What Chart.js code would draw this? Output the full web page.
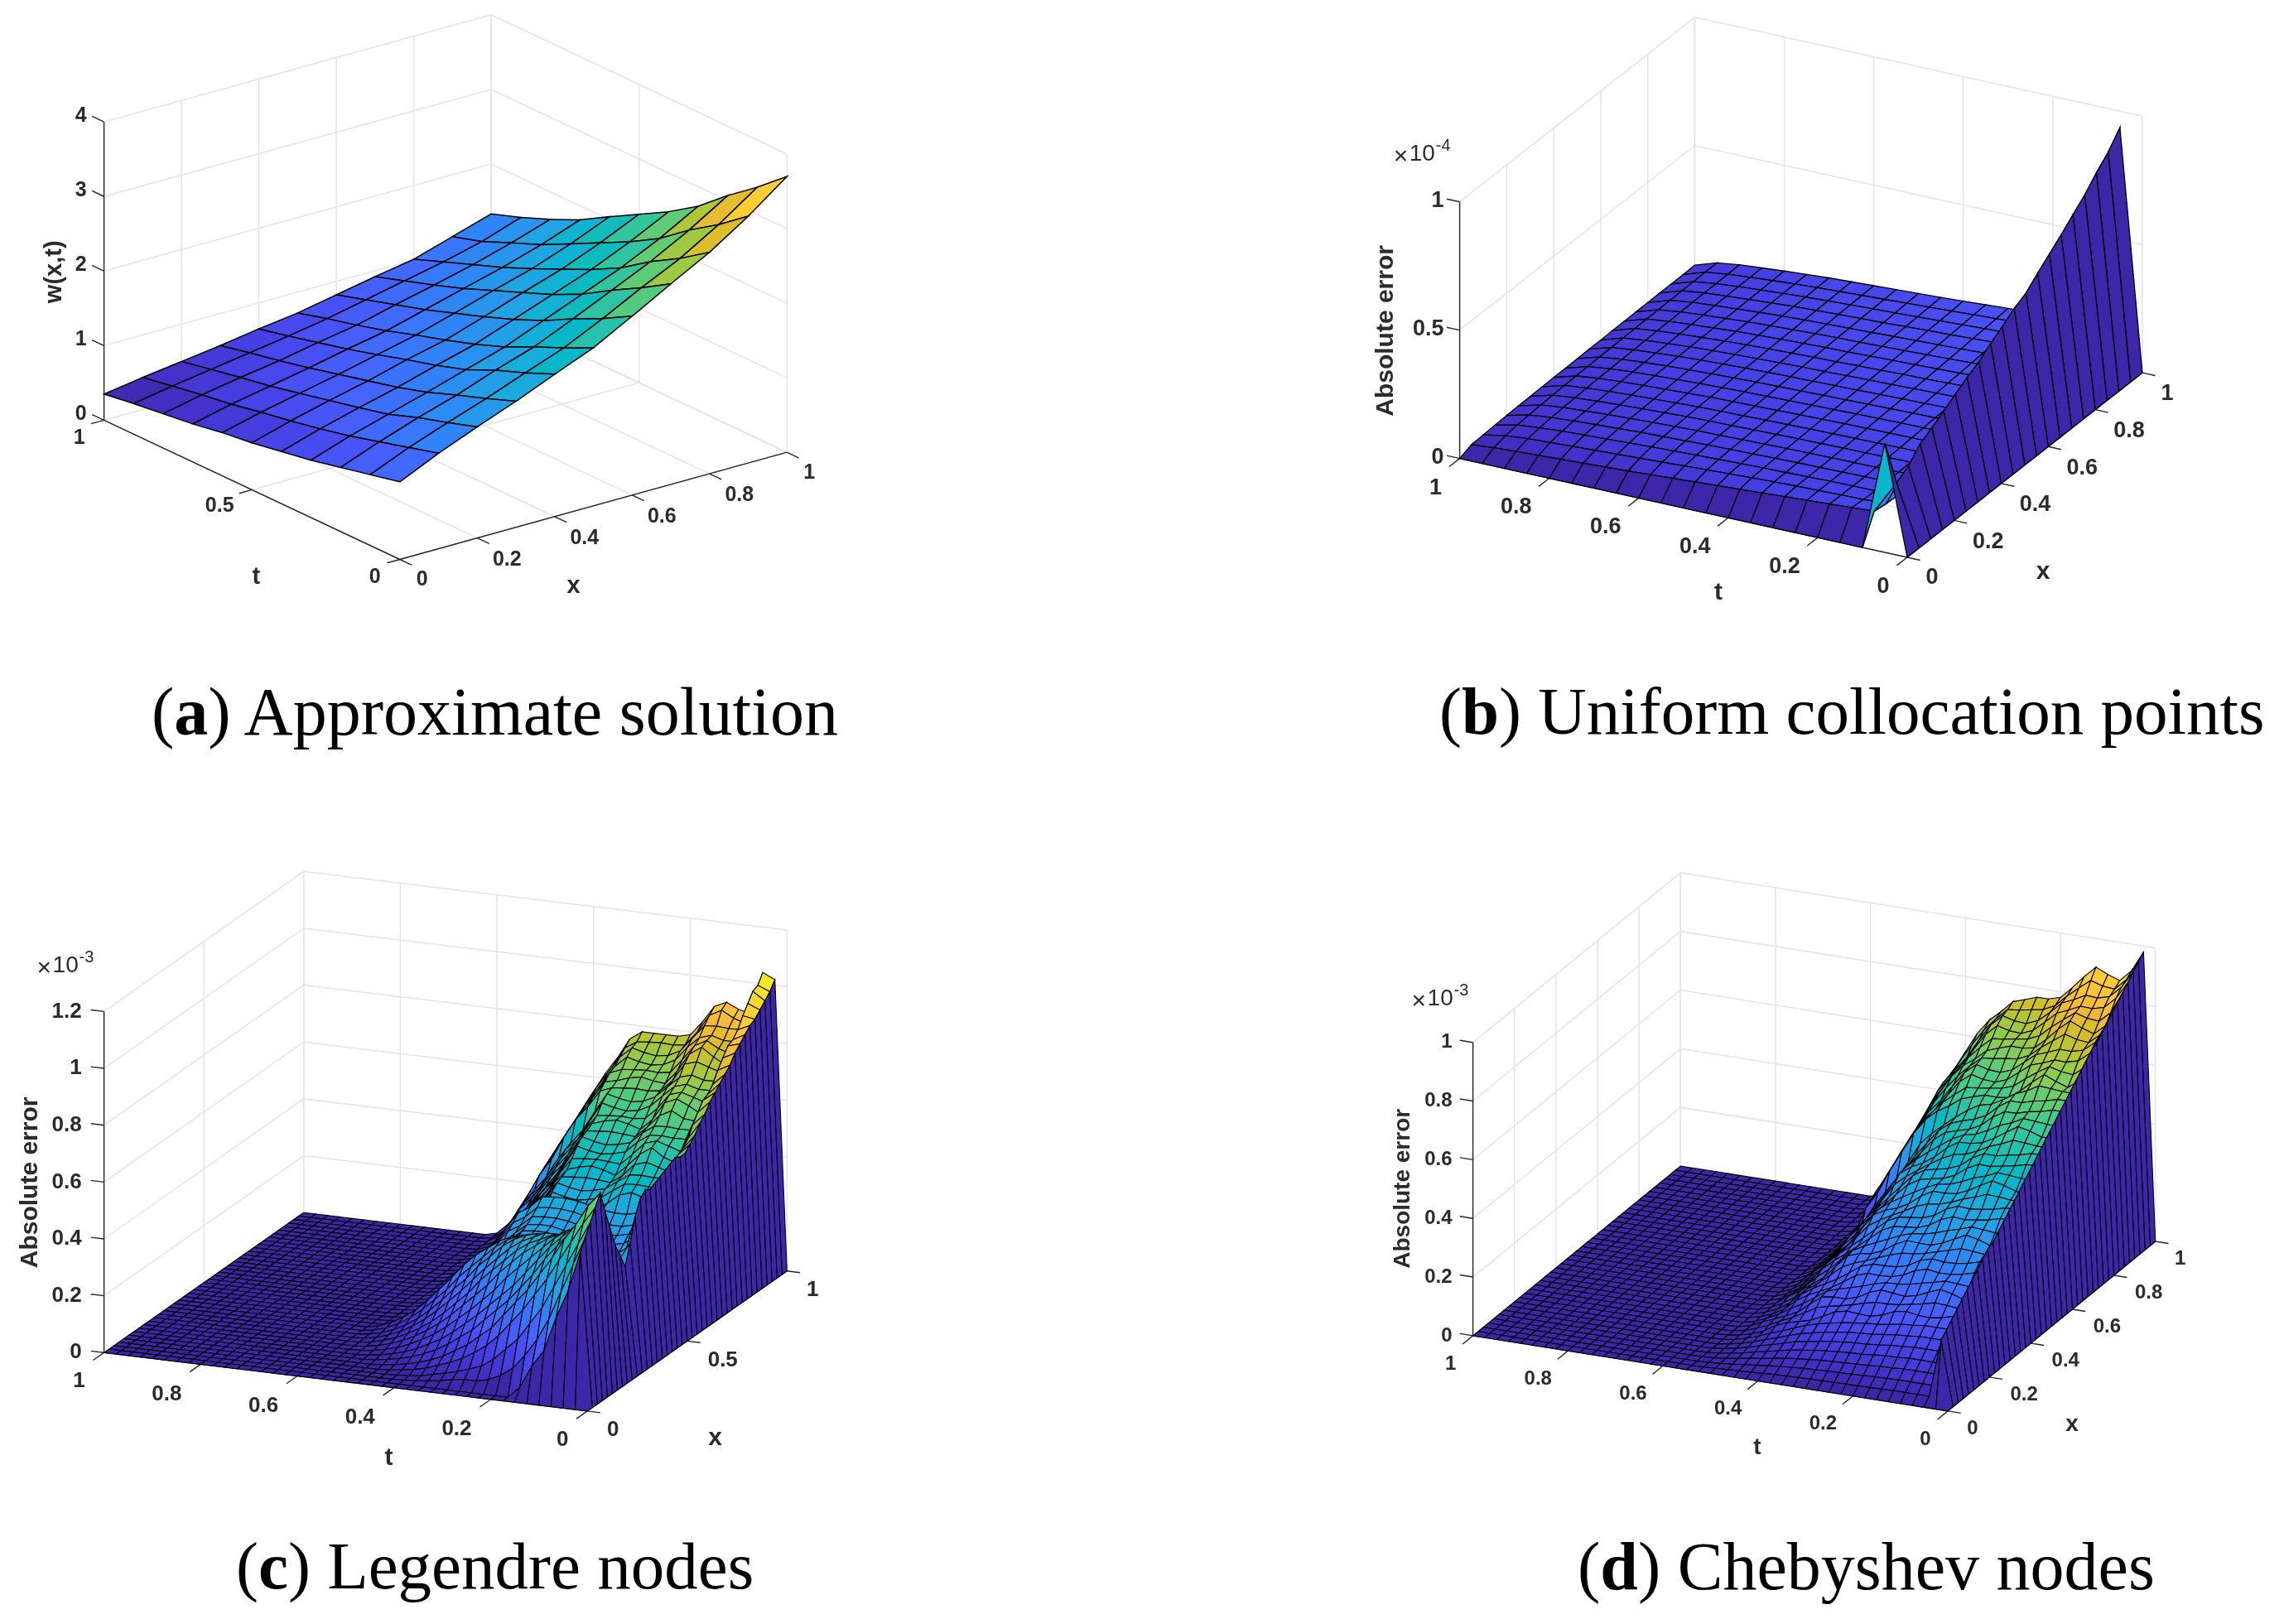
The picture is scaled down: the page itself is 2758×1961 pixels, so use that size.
<!DOCTYPE html>
<html>
<head>
<meta charset="utf-8">
<style>
  html, body { margin: 0; padding: 0; background: #fff; }
  body { position: relative; width: 2758px; height: 1961px; overflow: hidden; }
  canvas { position: absolute; }
  .cap { position: absolute; font: 82px/1 "Liberation Serif", serif; color: #000; white-space: nowrap; }
</style>
<script src="https://cdn.jsdelivr.net/npm/chart.js@4"></script>
</head>
<body>
<canvas id="chartA" width="1100" height="790" style="left:0;top:0"></canvas>
<canvas id="chartB" width="1118" height="790" style="left:1640px;top:0"></canvas>
<canvas id="chartC" width="1100" height="790" style="left:0;top:1020px"></canvas>
<canvas id="chartD" width="1108" height="790" style="left:1650px;top:1020px"></canvas>
<div class="cap" style="left:183px;top:819px">(<b>a</b>) Approximate solution</div>
<div class="cap" style="left:1738px;top:819px;font-size:81px">(<b>b</b>) Uniform collocation points</div>
<div class="cap" style="left:285px;top:1851px;font-size:81px">(<b>c</b>) Legendre nodes</div>
<div class="cap" style="left:1905px;top:1851px">(<b>d</b>) Chebyshev nodes</div>
<script>
// tick values of the four panels
const xTicksA = [0, 0.2, 0.4, 0.6, 0.8, 1];
const tTicksA = [0, 0.5, 1];
const zTicksA = [0, 1, 2, 3, 4];
const xTicksB = [0, 0.2, 0.4, 0.6, 0.8, 1];
const tTicksB = [0, 0.2, 0.4, 0.6, 0.8, 1];
const zTicksB = [0, 0.5, 1];
const xTicksC = [0, 0.5, 1];
const tTicksC = [0, 0.2, 0.4, 0.6, 0.8, 1];
const zTicksC = [0, 0.2, 0.4, 0.6, 0.8, 1, 1.2];
const xTicksD = [0, 0.2, 0.4, 0.6, 0.8, 1];
const tTicksD = [0, 0.2, 0.4, 0.6, 0.8, 1];
const zTicksD = [0, 0.2, 0.4, 0.6, 0.8, 1];

// surfaces: one list per x, entries run along t from t=0.
// lists that stop early are zero for the rest of t
const surfaceA = [
  [1.04,.95,.86,.77,.70,.63,.58,.51,.46,.41,.35],
  [1.28,1.17,1.06,.95,.86,.78,.71,.63,.57,.50,.43],
  [1.49,1.36,1.24,1.10,1.00,.91,.82,.73,.66,.58,.50],
  [1.69,1.54,1.40,1.25,1.13,1.03,.93,.83,.74,.66,.57],
  [1.91,1.74,1.59,1.41,1.28,1.17,1.05,.94,.84,.74,.65],
  [2.12,1.93,1.76,1.57,1.42,1.29,1.17,1.04,.93,.83,.72],
  [2.40,2.18,1.99,1.78,1.61,1.46,1.32,1.18,1.06,.94,.82],
  [2.69,2.45,2.23,1.99,1.80,1.64,1.48,1.32,1.18,1.05,.92],
  [2.97,2.70,2.47,2.20,1.99,1.81,1.63,1.46,1.31,1.16,1.01],
  [3.31,3.01,2.75,2.45,2.22,2.02,1.82,1.62,1.46,1.29,1.17],
  [3.70,3.37,3.07,2.74,2.48,2.26,2.04,1.81,1.63,1.47,1.33]
];
// thousandths of the 1e-4 axis unit
const surfaceB = [
  [0,426],
  [0,235,105,100,95,90,85,80,75,70,65,60,55,50,46,42,38,34,30,25,18],
  [0,264,98,96,94,92,90,87,84,80,76,72,68,64,60,56,52,48,44,36,20],
  [0,314,95,94,93,92,90,88,86,84,81,78,75,72,68,64,60,56,50,42,22],
  [0,341,95,94,93,92,91,90,88,86,84,82,79,76,73,69,65,60,54,45,24],
  [0,370,96,95,94,93,92,91,90,88,86,84,82,79,76,72,68,63,57,48,25],
  [0,400,98,97,96,95,94,93,92,90,88,86,84,82,78,74,70,65,59,50,26],
  [0,430,100,99,98,97,96,95,94,92,90,88,86,84,80,76,72,67,61,52,27],
  [0,454,103,102,101,100,99,98,96,94,92,90,88,86,82,78,74,69,63,53,28],
  [0,490,106,105,104,103,102,100,98,96,94,92,90,87,84,80,76,71,64,54,28],
  [0,520,110,109,107,106,104,102,100,98,96,94,92,89,86,82,78,72,65,55,29],
  [0,554,114,112,110,108,106,104,102,100,98,96,94,91,88,84,79,73,66,56,30],
  [0,578,118,116,114,112,110,107,105,103,100,98,95,92,89,85,80,74,67,57,30],
  [0,620,122,120,118,115,112,110,107,105,102,100,97,94,91,86,81,75,68,58,31],
  [0,659,126,124,121,118,115,112,110,107,104,102,99,96,92,88,82,76,69,59,31],
  [0,698,130,128,125,122,118,115,112,109,106,104,101,97,93,89,83,77,70,59,32],
  [0,740,135,132,129,125,121,118,115,112,108,105,102,99,95,90,84,78,71,60,32],
  [0,781,140,137,133,129,125,121,118,114,110,107,104,100,96,91,85,79,72,61,33],
  [0,832,145,142,137,132,128,124,120,116,112,109,105,101,97,92,86,80,72,61,33],
  [0,876,150,146,141,136,131,127,122,118,114,110,106,102,98,93,87,80,73,62,33],
  [0,936,155,150,145,140,135,130,125,120,116,112,108,104,100,94,88,81,74,62,34]
];
// hundredths of the 1e-3 axis unit
const surfaceC = [
  [0],
  [0,54,40,30,18,12,4],
  [0,58,48,38,28,20,14,9,6,4,3,3,2.5,1.5,1,.5,.2],
  [0,62,54,46,38,30,24,18,14,10,7,5.5,4,3,2,1,.5,.2],
  [0,66,60,53,46,39,33,27,22,17,13,10,7.5,5.5,4,2.5,1.5,.8,.3],
  [0,70,65,58,52,45,39,33,28,23,18,14.5,11,8.5,6,4.2,2.8,1.7,.9,.4],
  [0,62,62,58,53,48,43,37,32,27,23,19,15,12,9,6.5,4.6,3,1.9,1,.4],
  [0,55,58,57,54,50,46,41,36,31,27,23,19,15.5,12,9,6.8,4.6,3,1.8,.9,.3],
  [0,48,52,53,53,51,48,44,40,36,32,27,23,19,15.5,12,9,6.6,4.5,2.8,1.6,.7,.2],
  [0,43,46,49,50,50,48,46,43,40,36,32,27,23,19,15,11.5,8.6,6,4,2.4,1.2,.4],
  [0,38,40,43,45,46,47,46,44,42,39,35,31,27,22,18,14,10.5,7.6,5.2,3.2,1.8,.7,.1],
  [0,45,38,38,40,42,44,45,45,43,41,38,34,30,25.5,21,17,13,9.5,6.6,4.2,2.4,1.1,.3],
  [0,53,37,35,36,38,40,42,43,43,42,40,37,33,29,24,20,15.5,11.5,8,5.2,3.1,1.5,.5],
  [0,58,38,33,33,34,36,38,40,41,41,40,38,35,31,27,23,18,14,10,6.6,4,2,.7],
  [0,60,40,33,31,31,32,34,36,38,39,39,38,36,33,30,26,21,16.5,12,8,5,2.6,1],
  [0,59,40,35,33,32,33,34,35,36.5,37,37,36.5,32.7,29,25,18.5,12.5,8,4.4,2.4,1.4,.7,.2,.1],
  [0,60,42,37,34,33,33.5,35,36,37,38,38,37.5,33.6,30,26,19.5,13,8.5,4.6,2.5,1.5,.8,.3,.1],
  [0,61,44,39,36,35,35,36,37,38,39,39,38.5,35,31,27,20.5,13.5,9,4.8,2.6,1.6,.8,.3,.1],
  [0,62,46,41,38,37,37,38,39,40,40.5,40.5,40,36.3,33.9,29,22,14.5,9.5,5,2.8,1.7,.9,.3,.1],
  [0,63,48,43,40,39,39,40,41,42,42.5,42.5,42,38.2,35.6,30.3,23.3,15.3,10,5,3,1.8,1,.3,.1],
  [0,64,50,46,43,42,42,42.5,43.5,44.5,45,45,44.5,40.5,37.8,32,25,17,11,5,2.8,1.8,1,.3,.1],
  [0,63,54.7,46.7,47.1,48.4,47.1,43.7,40.7,41.1,41.4,41.1,40.7,36,32,28,23,18.3,12.3,5,3,1.9,1,.3,.1],
  [0,63,57.8,49.8,49.7,50,49.7,46.8,43.8,42.7,42,42.7,43.8,37.7,32.6,28.9,24,19.5,14,6,3.2,2,1.1,.4,.1],
  [0,65,60.8,51.8,51.7,52,51.7,48.8,45.8,44.7,44,44.7,45.8,39.6,34.3,30.6,25.6,20.3,15.4,7.4,3.6,2.2,1.2,.4,.1],
  [0,67,61.7,52.7,54.1,55.4,54.1,49.7,46.7,47.1,47.4,47.1,46.7,41.4,36,31.5,26.4,21,17,9,4,2.4,1.3,.4,.1],
  [0,70,64,55,56.4,59.3,56.4,52,48,49.4,50.3,49.4,48,43.2,37.8,33.2,27.2,21.8,18.4,10.4,4.5,2.6,1.4,.5,.1],
  [0,72,67.7,57.7,59.1,60.4,59.1,54.7,50.7,51.1,51.4,51.1,50.7,45.1,38.7,34,28.8,23.3,19.4,12,5,3,1.6,.5,.1],
  [0,75,70.8,60.8,60.7,61,60.7,57.8,53.8,52.7,52,52.7,53.8,46.9,40.5,35.7,29.6,24,20.2,13.4,6.4,3.4,1.8,.6,.1],
  [0,77,73.8,62.8,62.7,63,62.7,59.8,55.8,54.7,54,54.7,55.8,48.8,42.2,36.6,31.2,24.8,20.9,15,8,4,2,.7,.1],
  [0,79,74.7,64.7,65.1,67.4,65.1,60.7,56.7,57.1,57.4,57.1,56.7,50,44,39,33,27,23,16.4,9.4,4.5,2.2,.8,.1],
  [0,81,77,66,68.4,70.3,68.4,62,58,59.4,60.3,59.4,58,52,46,41,35,29,25,18,11,5,2.5,.9,.1],
  [0,83,80.7,68.7,70.1,71.4,70.1,64.7,60.7,60.1,60.4,60.1,59.7,54,48,43,37,30,26,19.4,12.4,6,3,1,.2],
  [0,86,83.8,71.8,71.7,73,71.7,67.8,63.8,61.7,61,61.7,62.8,56,49,45,39,31,27,21,14,7,3.5,1.2,.2],
  [0,88,86.8,73.8,73.7,75,73.7,69.8,65.8,63.7,63,63.7,64.8,58,51,46,40,33,28,22,15.4,8,4,1.4,.2],
  [0,90,87.7,75.7,77.1,78.4,77.1,70.7,66.7,66.1,66.4,66.1,65.7,64,58,53,46,38,32,24,17,9.5,4.5,1.5,.2],
  [0,92,90,77,79.4,82.3,79.4,73,68,68.4,69.3,68.4,67,66,60,54,47.5,39.5,33.5,25.5,18.5,10.5,5,1.6,.2],
  [0,93,93.7,79.7,81.1,83.4,81.1,75.7,70.7,70.1,70.4,70.1,69.7,68,61,56,49,41,35,27,20,12,5.5,1.8,.2],
  [0,95,96.8,82.8,82.7,84,82.7,78.8,73.8,71.7,71,71.7,72.8,69,63,57,50.5,42.5,36.5,28.5,21.5,13.5,6.5,2,.3],
  [0,97,99.8,85.8,85.7,86,85.7,80.8,75.8,73.7,73,73.7,74.8,71,65,59,52,44,38,30,23,15,8,3,.4],
  [0,99,100.7,86.7,88.1,90.4,88.1,81.7,76.7,76.1,76.4,76.1,75.7,73,66,60,53.5,45.5,39.5,31.5,24.5,16.5,9.5,3.5,.5],
  [0,102,104,89,90,92,90,84,79,78,78,78,78,75,68,62,55,47,41,33,26,18,11,5,1]
];
const surfaceD = [
  [0],
  [0,22,2.3,2.3,2.3,2.3,2.2,2.1,2,2,1.9,1.8,1.8,1.6,1.5,1.4,1.1,.9,.7,.5,.3,.1],
  [0,24,4.5,4.5,4.5,4.5,4.4,4.3,4.1,3.9,3.8,3.7,3.5,3.3,3,2.7,2.3,1.8,1.4,.9,.5,.2],
  [0,26,6.8,6.8,6.8,6.8,6.5,6.4,6.1,5.9,5.7,5.5,5.3,4.9,4.5,4.1,3.4,2.7,2.1,1.4,.8,.3,.1],
  [0,28,9,9,9,9,8.7,8.6,8.2,7.8,7.7,7.4,7,6.6,6,5.4,4.5,3.6,2.8,1.8,1.1,.5,.1],
  [0,30,11.3,11.3,11.3,11.3,10.9,10.7,10.2,9.8,9.6,9.2,8.8,8.2,7.5,6.8,5.6,4.5,3.5,2.3,1.4,.6,.1],
  [0,32,13.5,13.5,13.5,13.5,13.1,12.8,12.3,11.7,11.5,11.1,10.5,9.9,9,8.1,6.8,5.4,4.2,2.7,1.6,.7,.1],
  [0,34,15.8,15.8,15.8,15.8,15.3,15,14.3,13.7,13.4,12.9,12.3,11.5,10.6,9.5,7.9,6.3,4.9,3.2,1.9,.8,.2],
  [0,36,18.8,18.8,17.7,17,17.2,17.9,17.2,15.4,14.3,14.5,14.8,13.9,11.8,9.8,8.7,7.7,6,3.5,1.9,.9,.2],
  [0,38,20,20,20.4,20.7,19.7,18.9,18.1,17.7,17.6,16.7,15.5,14.5,13.7,12.6,10.2,8,6.2,4.1,2.4,1,.2],
  [0,40,21.5,21.5,22.9,23.8,22.2,20.4,19.5,20,20.4,18.9,16.6,15.4,15.5,14.8,11.7,8.4,6.5,4.7,3.1,1.1,.2],
  [0,41,24.5,24.5,24.9,25.2,24.1,23.2,22.2,21.6,21.4,20.4,19,17.8,16.7,15.3,12.5,9.8,7.6,5,3,1.2,.2],
  [0,43,27.8,27.8,26.7,26,25.9,26.5,25.4,23.2,22,21.8,21.9,20.5,17.8,15.2,13.2,11.3,8.8,5.3,2.9,1.4,.3],
  [0,45,30.1,30.1,29,28.3,28.1,28.6,27.4,25.1,23.9,23.7,23.6,22.2,19.3,16.6,14.3,12.2,9.5,5.8,3.2,1.5,.3],
  [0,47,31.2,31.2,31.6,31.9,30.7,29.6,28.4,27.5,27.2,25.9,24.3,22.7,21.2,19.3,15.9,12.5,9.7,6.3,3.8,1.6,.3],
  [0,49,32.8,32.8,34.2,35.1,33.1,31.1,29.7,29.8,30,28.1,25.3,23.6,23,21.6,17.3,12.9,10,7,4.5,1.7,.3],
  [0,51,35.7,35.7,36.1,36.4,35,33.9,32.5,31.4,31,29.6,27.8,26,24.2,22,18.1,14.3,11.1,7.2,4.3,1.8,.4],
  [0,53,39.1,39.1,38,37.3,36.8,37.1,35.6,33,31.5,31.1,30.6,28.7,25.3,22,18.8,15.8,12.3,7.6,4.3,1.9,.4],
  [0,55,41.3,41.3,40.2,39.5,39,39.3,37.7,34.9,33.4,32.9,32.4,30.4,26.8,23.3,20,16.7,13,8,4.6,2,.4],
  [0,57,42.5,42.5,42.9,43.2,41.6,40.3,38.6,37.3,36.7,35.2,33,30.9,28.7,26.1,21.5,17,13.2,8.6,5.1,2.1,.4],
  [0,59,44,44,45.4,46.3,44.1,41.8,40,39.6,39.6,37.3,34.1,31.9,30.6,28.3,22.9,17.4,13.5,9.2,5.8,2.3,.5],
  [0,61,47,47,47.4,47.7,45.9,44.6,42.7,41.2,40.6,38.8,36.6,34.2,31.8,28.8,23.7,18.8,14.5,9.5,5.7,2.4,.5],
  [0,63,50.3,50.3,49.2,48.5,47.7,47.8,45.8,42.8,41.1,40.3,39.4,36.9,32.9,28.7,24.5,20.3,15.7,9.8,5.6,2.5,.5],
  [0,65,52.6,52.6,51.5,50.8,49.9,50,47.9,44.7,43,42.1,41.2,38.6,34.4,30.1,25.6,21.2,16.4,10.3,5.9,2.6,.5],
  [0,67,53.7,53.7,54.1,54.4,52.5,51,48.8,47.1,46.3,44.4,41.8,39.1,36.3,32.8,27.1,21.5,16.6,10.8,6.5,2.7,.5],
  [0,69,55.3,55.3,56.7,57.6,55,52.4,50.2,49.3,49.1,46.5,42.9,40.1,38.1,35.1,28.5,21.9,16.9,11.5,7.2,2.8,.6],
  [0,71,58.2,58.2,58.6,58.9,56.8,55.3,52.9,51,50.1,48.1,45.3,42.4,39.3,35.5,29.4,23.3,18,11.7,7,2.9,.6],
  [0,73,61.6,61.6,60.5,59.8,58.6,58.5,56.1,52.6,50.6,49.5,48.2,45.1,40.4,35.5,30.1,24.8,19.2,12.1,7,3,.6],
  [0,75,63.8,63.8,62.7,62,60.8,60.7,58.1,54.5,52.6,51.4,49.9,46.8,41.9,36.8,31.2,25.7,19.9,12.5,7.3,3.2,.6],
  [0,77,65,65,65.4,65.7,63.4,61.7,59.1,56.9,55.9,53.6,50.6,47.3,43.8,39.6,32.7,26,20.1,13.1,7.8,3.3,.7],
  [0,79,68,65,66.4,68.1,64.9,61.3,58.3,57.8,57.9,56.7,55.3,52.3,49.9,46.3,40.9,34,27,19,13,3,1],
  [0,80,71,67.9,68.3,69.4,66.8,64,60.9,59.4,58.9,58.2,57.8,54.7,51.3,46.9,42,35.5,28.5,20,14.5,3.5,1,.1],
  [0,82,74.4,71.2,70.1,70.2,68.5,67.2,64,60.9,59.4,59.7,60.8,57.6,52.5,47,42.9,37,30,21.7,16,4,1,.2],
  [0,84,76.7,73.4,72.3,72.4,70.7,69.3,66,62.8,61.3,61.6,62.7,59.4,54.2,48.5,44.3,38,31,23,17,5,1.2,.3],
  [0,86,77.9,74.5,74.9,76.1,73.2,70.3,66.9,65.1,64.6,63.9,63.5,60.1,56.2,51.4,46,39.5,32.6,24.3,18.5,6,1.5,.4],
  [0,88,79.5,76,77.4,79.2,75.7,71.6,68.1,67.3,67.4,66,64.6,61.1,58.2,53.8,47.7,41.4,33.9,25.6,19.8,7.4,2,.5],
  [0,90,82.5,78.9,79.3,80.5,77.5,74.4,70.8,69,68.4,67.6,67.2,63.6,59.5,54.4,48.7,43.1,35.2,27,21,8.7,2.8,.6],
  [0,92,85.9,82.2,81.1,81.3,79.3,77.6,73.9,70.5,68.8,69.1,70.2,66.5,60.8,54.5,49.7,44.9,36.6,28.3,22.5,10,3.5,.7],
  [0,94,88.2,84.4,83.3,83.6,81.4,79.7,75.8,72.4,70.7,71,72.1,68.3,62.4,56,51,46.1,37.9,29.6,23.8,11.4,4.2,.8],
  [0,96,89.4,85.5,85.9,87.2,84,80.6,76.7,74.7,74,73.2,72.8,68.9,64.5,58.9,52.8,46.7,39.2,30.9,25.1,12.7,4.9,.9],
  [0,98,91,87,88.4,90.3,86.4,82,78,76.9,76.8,75.4,74,70,66.4,61.3,54.4,47.4,40.5,32.2,26.4,14,6,1]
];

// parula, every third entry of the 64 step map
const parula = [[62,38,168],[68,50,203],[71,65,229],[72,82,244],[69,99,253],[56,117,254],[46,135,247],[39,151,235],
  [32,165,227],[18,177,214],[2,186,195],[36,193,174],[55,200,151],[87,204,122],[129,204,89],[171,199,57],
  [209,191,39],[240,186,54],[254,195,56],[250,214,45],[245,233,36],[249,251,21]];

function parulaColor(v) {
  const p = Math.max(0, Math.min(1, v)) * (parula.length - 1);
  const i = Math.min(Math.floor(p), parula.length - 2);
  const f = p - i;
  const c = parula[i].map((a, k) => Math.round(a + (parula[i + 1][k] - a) * f));
  return `rgb(${c[0]},${c[1]},${c[2]})`;
}

// o, x1, t1 are the page positions of the floor corners, zPx the height of the z axis
const panels = [
  { id: 'chartA', left: 0, top: 0, surface: surfaceA, nt: 11, unit: 1, xTicks: xTicksA, tTicks: tTicksA, zTicks: zTicksA,
    o: [482.8, 675.5], x1: [950.3, 546.2], t1: [125.6, 507.4], zPx: 360.2, edge: 1.5, font: 25,
    zGap: 21, zDy: -7, tOff: [-30, 22], tMidOff: [-39, 20], xOff: [27, 25], xMidOff: [36, 26],
    xTitle: 'x', xPos: [692.6, 707.8], tPos: [309.3, 697.3], zTitle: 'w(x,t)', zPos: [65.7, 328.3], titleFont: 29 },
  { id: 'chartB', left: 1640, top: 0, surface: surfaceB, nt: 21, unit: 0.001, xTicks: xTicksB, tTicks: tTicksB, zTicks: zTicksB,
    o: [2303, 673], x1: [2586.9, 450.1], t1: [1762.6, 553.6], zPx: 309.9, edge: 1.3, font: 27,
    zGap: 19, zDy: -1, tOff: [-29, 36], tMidOff: [-40, 35], xOff: [30, 25], xMidOff: [41, 26],
    xTitle: 'x', xPos: [2467, 690.4], tPos: [2075, 715.3], zTitle: 'Absolute error', zPos: [1673.5, 399.4], titleFont: 30,
    exp: '-4', expPos: [1682.8, 186.5] },
  { id: 'chartC', left: 0, top: 1020, surface: surfaceC, nt: 41, unit: 0.01, xTicks: xTicksC, tTicks: tTicksC, zTicks: zTicksC,
    o: [709.2, 1703.9], x1: [950.3, 1534.8], t1: [125.6, 1633.3], zPx: 411.9, edge: 1.1, font: 26,
    zGap: 27, zDy: 0, tOff: [-30, 35], tMidOff: [-41, 36], xOff: [31, 23], xMidOff: [43, 23],
    xTitle: 'x', xPos: [863.6, 1736.3], tPos: [469.4, 1761], zTitle: 'Absolute error', zPos: [36.4, 1427.9], titleFont: 30,
    exp: '-3', expPos: [44.6, 1166.7] },
  { id: 'chartD', left: 1650, top: 1020, surface: surfaceD, nt: 41, unit: 0.01, xTicks: xTicksD, tTicks: tTicksD, zTicks: zTicksD,
    o: [2352, 1703.9], x1: [2602.7, 1499], t1: [1778.6, 1612.9], zPx: 354.2, edge: 1.1, font: 24,
    zGap: 25, zDy: 0, tOff: [-27, 34], tMidOff: [-36, 34], xOff: [30, 21], xMidOff: [42, 21],
    xTitle: 'x', xPos: [2502, 1720.3], tPos: [2121.8, 1748.7], zTitle: 'Absolute error', zPos: [1693.8, 1435.3], titleFont: 28,
    exp: '-3', expPos: [1704.6, 1206.5] }
];

function project(p, x, t, z) {
  const zMax = p.zTicks[p.zTicks.length - 1];
  return {
    x: p.o[0] + x * (p.x1[0] - p.o[0]) + t * (p.t1[0] - p.o[0]),
    y: p.o[1] + x * (p.x1[1] - p.o[1]) + t * (p.t1[1] - p.o[1]) - z / zMax * p.zPx
  };
}

function lineSet(points, color, width) {
  return { data: points, showLine: true, fill: false, borderColor: color, borderWidth: width, pointRadius: 0, tension: 0, clip: false };
}

function buildDatasets(p) {
  const surf = p.surface;
  const nx = surf.length;
  const val = (i, j) => surf[i][j] || 0;
  let lo = Infinity, hi = -Infinity;
  for (let i = 0; i < nx; i++) {
    for (let j = 0; j < p.nt; j++) {
      lo = Math.min(lo, val(i, j));
      hi = Math.max(hi, val(i, j));
    }
  }
  const sets = [];
  const at = (i, j) => project(p, i / (nx - 1), j / (p.nt - 1), val(i, j) * p.unit);

  // first dataset is painted last, so the cell nearest the viewer goes first
  for (let j = 0; j < p.nt - 1; j++) {
    for (let i = 0; i < nx - 1; i++) {
      sets.push({
        data: [at(i, j), at(i + 1, j), at(i + 1, j + 1), at(i, j + 1), at(i, j)],
        showLine: true, fill: 'shape', backgroundColor: parulaColor((val(i, j) - lo) / (hi - lo)),
        borderColor: '#000', borderWidth: p.edge, pointRadius: 0, tension: 0, clip: false
      });
    }
  }

  const zMax = p.zTicks[p.zTicks.length - 1];
  const dark = '#262626';
  const tickX = 16 / Math.hypot(p.x1[0] - p.o[0], p.x1[1] - p.o[1]);
  const tickT = 16 / Math.hypot(p.t1[0] - p.o[0], p.t1[1] - p.o[1]);
  sets.push(lineSet([project(p, 0, 1, 0), project(p, 0, 1, zMax)], dark, 1.4));
  sets.push(lineSet([project(p, 0, 1, 0), project(p, 0, 0, 0)], dark, 1.4));
  sets.push(lineSet([project(p, 0, 0, 0), project(p, 1, 0, 0)], dark, 1.4));
  p.zTicks.forEach(z => sets.push(lineSet([project(p, 0, 1, z), project(p, 0, 1 + tickT, z)], dark, 1.4)));
  p.xTicks.forEach(x => sets.push(lineSet([project(p, x, 0, 0), project(p, x, -tickT, 0)], dark, 1.4)));
  p.tTicks.forEach(t => sets.push(lineSet([project(p, 0, t, 0), project(p, -tickX, t, 0)], dark, 1.4)));

  const grid = '#e4e4e4';
  p.xTicks.forEach(x => sets.push(lineSet([project(p, x, 0, 0), project(p, x, 1, 0), project(p, x, 1, zMax)], grid, 1.5)));
  p.tTicks.forEach(t => sets.push(lineSet([project(p, 0, t, 0), project(p, 1, t, 0), project(p, 1, t, zMax)], grid, 1.5)));
  p.zTicks.forEach(z => sets.push(lineSet([project(p, 0, 1, z), project(p, 1, 1, z), project(p, 1, 0, z)], grid, 1.5)));
  return sets;
}

// tick labels and axis titles, placed through the chart's own scales
const panelText = {
  id: 'panelText',
  afterDraw(chart, args, opts) {
    const p = opts.panel;
    const ctx = chart.ctx;
    const sx = chart.scales.x, sy = chart.scales.y;
    const put = (text, px, py, font, align) => {
      ctx.font = font;
      ctx.textAlign = align || 'center';
      ctx.textBaseline = 'middle';
      ctx.fillText(text, sx.getPixelForValue(px), sy.getPixelForValue(py));
    };
    ctx.save();
    ctx.fillStyle = '#2b2b2b';
    const tickFont = `bold ${p.font}px "Liberation Sans"`;
    const titleFont = `bold ${p.titleFont}px "Liberation Sans"`;
    p.zTicks.forEach(z => {
      const a = project(p, 0, 1, z);
      put(String(z), a.x - p.zGap, a.y + p.zDy, tickFont, 'right');
    });
    p.tTicks.forEach(t => {
      const a = project(p, 0, t, 0);
      const off = (t === 0 || t === 1) ? p.tOff : p.tMidOff;
      put(String(t), a.x + off[0], a.y + off[1], tickFont);
    });
    p.xTicks.forEach(x => {
      const a = project(p, x, 0, 0);
      const off = (x === 0 || x === 1) ? p.xOff : p.xMidOff;
      put(String(x), a.x + off[0], a.y + off[1], tickFont);
    });
    put(p.xTitle, p.xPos[0], p.xPos[1], titleFont);
    put('t', p.tPos[0], p.tPos[1], titleFont);
    ctx.save();
    ctx.translate(sx.getPixelForValue(p.zPos[0]), sy.getPixelForValue(p.zPos[1]));
    ctx.rotate(-Math.PI / 2);
    ctx.font = titleFont;
    ctx.textAlign = 'center';
    ctx.textBaseline = 'middle';
    ctx.fillText(p.zTitle, 0, 0);
    ctx.restore();
    if (p.exp) {
      put('\u00d7', p.expPos[0], p.expPos[1] + 3, '30px "Liberation Sans"', 'left');
      put('10', p.expPos[0] + 19, p.expPos[1], '28px "Liberation Sans"', 'left');
      put(p.exp, p.expPos[0] + 51, p.expPos[1] - 10, '20px "Liberation Sans"', 'left');
    }
    ctx.restore();
  }
};

panels.forEach(p => {
  const canvas = document.getElementById(p.id);
  new Chart(canvas, {
    type: 'scatter',
    data: { datasets: buildDatasets(p) },
    plugins: [panelText],
    options: {
      responsive: false,
      animation: false,
      devicePixelRatio: 1,
      events: [],
      layout: { padding: 0 },
      scales: {
        x: { type: 'linear', display: false, min: p.left, max: p.left + canvas.width },
        y: { type: 'linear', display: false, min: p.top, max: p.top + canvas.height, reverse: true }
      },
      plugins: {
        legend: { display: false },
        tooltip: { enabled: false },
        panelText: { panel: p }
      }
    }
  });
});
</script>
</body>
</html>
